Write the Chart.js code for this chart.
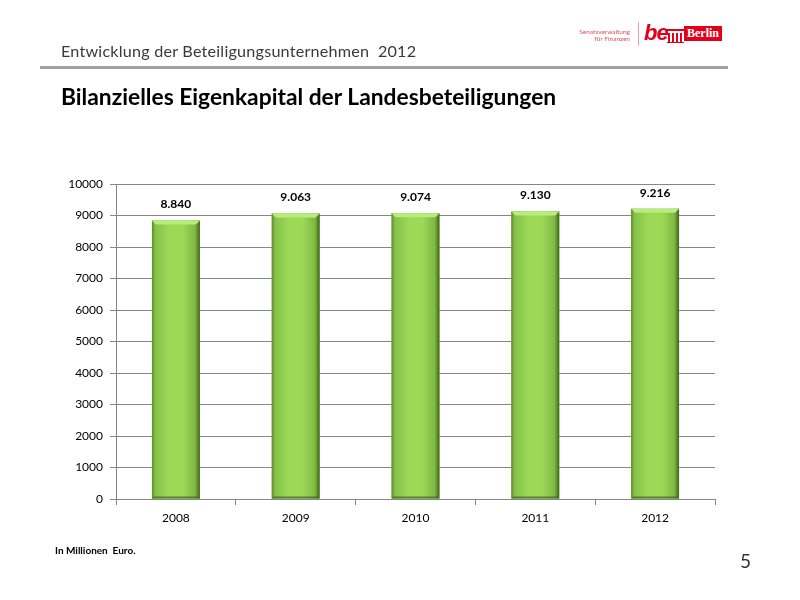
<!DOCTYPE html>
<html><head><meta charset="utf-8">
<script src="https://cdn.jsdelivr.net/npm/chart.js@4/dist/chart.umd.min.js"></script>
<style>
html,body{margin:0;padding:0;background:#fff;}
#page{position:relative;width:800px;height:600px;overflow:hidden;font-family:Lato,"Open Sans",sans-serif;}
#chartWrap{position:absolute;left:0;top:0;width:800px;height:600px;}
.hdr{position:absolute;left:61px;top:41px;font-size:16.2px;color:#3a3a3a;letter-spacing:0.2px;white-space:nowrap;}
.rule{position:absolute;left:40px;top:66px;width:688px;height:3px;background:#a0a0a0;}
.title{position:absolute;left:61px;top:82px;font-size:22.8px;font-weight:bold;color:#000;white-space:nowrap;}
.note{position:absolute;left:55px;top:544px;font-size:10px;font-weight:bold;color:#000;}
.pnum{position:absolute;left:740px;top:549px;font-size:19px;color:#333;}
.sv{position:absolute;left:562px;width:68px;text-align:right;font-size:6.5px;color:#e05060;line-height:7px;}
.vl{position:absolute;left:638px;top:22px;width:1px;height:24px;background:#f0a0a8;}
.be{position:absolute;left:644px;top:20px;font-size:22px;font-weight:bold;font-style:italic;color:#e3001b;font-family:"Liberation Sans",sans-serif;letter-spacing:-1px;}
.box{position:absolute;left:684px;top:26px;width:38px;height:15px;background:#e3001b;color:#fff;font-family:"Liberation Serif",serif;font-weight:bold;font-size:12px;line-height:15px;text-align:center;}
</style></head>
<body><div id="page">
<div id="chartWrap"><canvas id="c" width="800" height="600"></canvas></div>
<div class="hdr">Entwicklung der Beteiligungsunternehmen&nbsp; 2012</div>
<div class="rule"></div>
<div class="title">Bilanzielles Eigenkapital der Landesbeteiligungen</div>
<div class="note">In Millionen&nbsp; Euro.</div>
<div class="pnum">5</div>
<div class="sv" style="top:28px">Senatsverwaltung</div>
<div class="sv" style="top:35px">für Finanzen</div>
<div class="vl"></div>
<div class="be">be</div>
<svg style="position:absolute;left:667px;top:29px" width="17" height="14" viewBox="0 0 17 14">
<rect x="0" y="0" width="17" height="2" fill="#e3001b"/>
<rect x="1" y="4" width="2" height="10" fill="#e3001b"/>
<rect x="5" y="4" width="2" height="10" fill="#e3001b"/>
<rect x="9" y="4" width="2" height="10" fill="#e3001b"/>
<rect x="13" y="4" width="2" height="10" fill="#e3001b"/>
<rect x="0" y="13" width="17" height="1" fill="#e3001b"/>
</svg>
<div class="box">Berlin</div>
</div>
<script>
const categories = ["2008", "2009", "2010", "2011", "2012"];
const equityValues = [8840, 9063, 9074, 9130, 9216];
const yTicks = [0, 1000, 2000, 3000, 4000, 5000, 6000, 7000, 8000, 9000, 10000];

function fmtDE(v){ return String(v).replace(/\B(?=(\d{3})+(?!\d))/g, "."); }

const barStyle = {
  id: "barStyle",
  afterDatasetsDraw(chart){
    const ctx = chart.ctx;
    const meta = chart.getDatasetMeta(0);
    meta.data.forEach((el, i) => {
      const p = el.getProps(["x","y","base","width"], true);
      const l = p.x - p.width/2, r = p.x + p.width/2, t = p.y, b = p.base;
      ctx.save();
      const g = ctx.createLinearGradient(l, 0, r, 0);
      g.addColorStop(0, "#5d8a2c");
      g.addColorStop(0.07, "#86c04a");
      g.addColorStop(0.35, "#9bd957");
      g.addColorStop(0.65, "#9bd957");
      g.addColorStop(0.9, "#80b843");
      g.addColorStop(1, "#3f6418");
      ctx.fillStyle = g;
      ctx.fillRect(l, t, r - l, b - t);
      ctx.fillStyle = "#b8ec7c";
      ctx.beginPath();
      ctx.moveTo(l, t); ctx.lineTo(r, t); ctx.lineTo(r - 4, t + 4); ctx.lineTo(l + 4, t + 4); ctx.closePath();
      ctx.fill();
      ctx.fillStyle = "rgba(60,95,25,0.7)";
      ctx.beginPath();
      ctx.moveTo(l, b); ctx.lineTo(r, b); ctx.lineTo(r - 2, b - 2); ctx.lineTo(l + 2, b - 2); ctx.closePath();
      ctx.fill();
      ctx.fillStyle = "#000";
      ctx.font = "bold 12px Lato, 'Open Sans', sans-serif";
      ctx.textAlign = "center";
      ctx.textBaseline = "middle";
      ctx.fillText(fmtDE(equityValues[i]), p.x, t - 16);
      ctx.restore();
    });
  }
};

new Chart(document.getElementById("c"), {
  type: "bar",
  data: {
    labels: categories,
    datasets: [{
      data: equityValues,
      backgroundColor: "#92d050",
      barPercentage: 0.8,
      categoryPercentage: 0.5
    }]
  },
  options: {
    responsive: false,
    animation: false,
    layout: { padding: { top: 184, right: 85, bottom: 71, left: 0 } },
    plugins: { legend: { display: false }, tooltip: { enabled: false } },
    scales: {
      x: {
        offset: true,
        grid: { offset: true, drawOnChartArea: false, drawTicks: true, tickLength: 6, color: "#868686" },
        border: { display: true, color: "#868686" },
        ticks: { color: "#000", font: { size: 12, family: "Lato, 'Open Sans', sans-serif" }, padding: 6 },
        afterFit(s){ s.height = 30; }
      },
      y: {
        min: 0, max: 10000,
        afterBuildTicks(s){ s.ticks = yTicks.map(v => ({ value: v })); },
        grid: { color: "#868686", tickLength: 6 },
        border: { display: true, color: "#868686" },
        ticks: { color: "#000", font: { size: 12, family: "Lato, 'Open Sans', sans-serif" }, padding: 7,
                 callback: (v) => String(v) },
        afterFit(s){ s.width = 116; }
      }
    }
  },
  plugins: [barStyle]
});
</script>
</body></html>
